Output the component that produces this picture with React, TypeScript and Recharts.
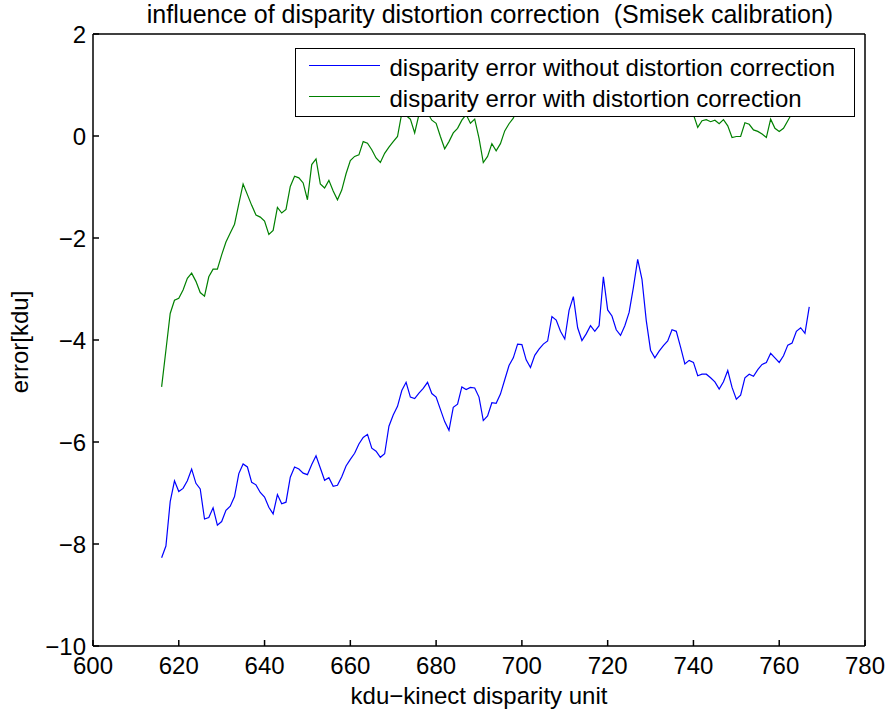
import React from 'react';
import { LineChart, Line, XAxis, YAxis, Legend } from 'recharts';

// disparity (kdu) sample positions
const kdu = [
  616, 617, 618, 619, 620, 621, 622, 623, 624, 625,
  626, 627, 628, 629, 630, 631, 632, 633, 634, 635,
  636, 637, 638, 639, 640, 641, 642, 643, 644, 645,
  646, 647, 648, 649, 650, 651, 652, 653, 654, 655,
  656, 657, 658, 659, 660, 661, 662, 663, 664, 665,
  666, 667, 668, 669, 670, 671, 672, 673, 674, 675,
  676, 677, 678, 679, 680, 681, 682, 683, 684, 685,
  686, 687, 688, 689, 690, 691, 692, 693, 694, 695,
  696, 697, 698, 699, 700, 701, 702, 703, 704, 705,
  706, 707, 708, 709, 710, 711, 712, 713, 714, 715,
  716, 717, 718, 719, 720, 721, 722, 723, 724, 725,
  726, 727, 728, 729, 730, 731, 732, 733, 734, 735,
  736, 737, 738, 739, 740, 741, 742, 743, 744, 745,
  746, 747, 748, 749, 750, 751, 752, 753, 754, 755,
  756, 757, 758, 759, 760, 761, 762, 763, 764, 765,
  766, 767,
];

// error without distortion correction [kdu]
const errWithout = [
  -8.27, -8.04, -7.17, -6.76, -6.97, -6.91, -6.76, -6.53, -6.81, -6.92,
  -7.51, -7.48, -7.29, -7.63, -7.56, -7.34, -7.26, -7.07, -6.62, -6.43,
  -6.49, -6.79, -6.84, -6.99, -7.08, -7.28, -7.41, -7.03, -7.21, -7.18,
  -6.69, -6.49, -6.53, -6.61, -6.64, -6.44, -6.27, -6.51, -6.75, -6.70,
  -6.87, -6.85, -6.68, -6.47, -6.34, -6.22, -6.04, -5.91, -5.85, -6.12,
  -6.18, -6.30, -6.23, -5.69, -5.47, -5.30, -4.99, -4.83, -5.12, -5.15,
  -5.04, -4.95, -4.83, -5.05, -5.12, -5.36, -5.60, -5.77, -5.32, -5.26,
  -4.92, -4.97, -4.93, -4.94, -5.12, -5.58, -5.49, -5.23, -5.24, -5.06,
  -4.78, -4.50, -4.35, -4.08, -4.09, -4.39, -4.54, -4.30, -4.18, -4.08,
  -4.02, -3.54, -3.61, -3.83, -3.98, -3.42, -3.15, -3.76, -4.01, -3.88,
  -3.72, -3.83, -3.72, -2.76, -3.41, -3.53, -3.80, -3.91, -3.72, -3.46,
  -2.97, -2.42, -2.81, -3.62, -4.20, -4.35, -4.22, -4.11, -4.02, -3.80,
  -3.83, -4.14, -4.47, -4.40, -4.44, -4.70, -4.67, -4.67, -4.74, -4.82,
  -4.96, -4.82, -4.60, -4.93, -5.16, -5.08, -4.74, -4.67, -4.71, -4.58,
  -4.48, -4.44, -4.26, -4.35, -4.44, -4.31, -4.10, -4.06, -3.83, -3.76,
  -3.87, -3.35,
];

// error with distortion correction [kdu]
const errWith = [
  -4.92, -4.20, -3.48, -3.22, -3.18, -3.02, -2.79, -2.69, -2.85, -3.07,
  -3.14, -2.76, -2.61, -2.61, -2.33, -2.08, -1.90, -1.73, -1.33, -0.94,
  -1.15, -1.36, -1.55, -1.59, -1.67, -1.93, -1.85, -1.40, -1.51, -1.44,
  -0.99, -0.79, -0.82, -0.92, -1.25, -0.56, -0.45, -0.94, -1.02, -0.87,
  -1.08, -1.25, -1.06, -0.74, -0.48, -0.40, -0.37, -0.11, -0.14, -0.27,
  -0.43, -0.52, -0.34, -0.22, -0.11, -0.01, 0.45, 0.40, 0.33, 0.06,
  0.42, 0.55, 0.45, 0.31, 0.25, -0.01, -0.25, -0.11, 0.06, 0.15,
  0.31, 0.42, 0.25, 0.33, -0.04, -0.52, -0.40, -0.15, -0.29, -0.15,
  0.10, 0.24, 0.35, 0.55, 0.62, 0.58, 0.71, 0.66, 0.74, 0.69,
  0.81, 0.77, 0.85, 0.72, 0.79, 0.88, 0.83, 0.76, 0.91, 0.86,
  0.95, 0.89, 0.82, 0.93, 0.87, 0.78, 0.84, 0.74, 0.80, 0.71,
  0.76, 0.66, 0.72, 0.63, 0.69, 0.58, 0.64, 0.55, 0.61, 0.52,
  0.57, 0.48, 0.53, 0.46, 0.42, 0.17, 0.30, 0.32, 0.28, 0.31,
  0.24, 0.32, 0.20, -0.03, -0.01, -0.01, 0.26, 0.23, 0.12, 0.09,
  0.04, -0.03, 0.33, 0.15, 0.09, 0.15, 0.30, 0.45, 0.52, 0.48,
  0.58, 0.55,
];

const seriesNames = [
  'disparity error without distortion correction',
  'disparity error with distortion correction',
];

const xTicks = [600, 620, 640, 660, 680, 700, 720, 740, 760, 780];
const yTicks = [-10, -8, -6, -4, -2, 0, 2];

const data = kdu.map((k, i) => ({ kdu: k, without: errWithout[i], with: errWith[i] }));

const FONT = '"Liberation Sans", Arial, Helvetica, sans-serif';
const tickStyle = { fontSize: 24, fill: '#000', fontFamily: FONT };
const fmt = (v: number) => (v < 0 ? '\u2212' + Math.abs(v) : String(v));

// legend keeps plotting order, boxed and opaque like MATLAB's
const LegendBox = ({ payload }: any) => {
  const items = [...(payload || [])].sort(
    (a: any, b: any) => seriesNames.indexOf(a.value) - seriesNames.indexOf(b.value),
  );
  return (
    <div
      style={{
        width: 560,
        height: 69,
        boxSizing: 'border-box',
        border: '1.5px solid #000',
        background: '#fff',
        paddingTop: 1,
        fontFamily: FONT,
        fontSize: 24,
        color: '#000',
      }}
    >
      {items.map((p: any) => (
        <div key={p.value} style={{ display: 'flex', alignItems: 'center', height: 31 }}>
          <div style={{ marginLeft: 12.5, width: 71, borderTop: `1.2px solid ${p.color}` }} />
          <div style={{ marginLeft: 10, lineHeight: '31px', position: 'relative', top: 2, whiteSpace: 'nowrap' }}>
            {p.value}
          </div>
        </div>
      ))}
    </div>
  );
};

export default function App() {
  return (
    <div style={{ position: 'absolute', left: 0, top: 0, width: 889, height: 715, background: '#fff' }}>
      <LineChart width={889} height={715} data={data} margin={{ top: 33, right: 23, bottom: 9, left: 13 }}>
        <XAxis
          dataKey="kdu"
          type="number"
          domain={[600, 780]}
          allowDataOverflow
          ticks={xTicks}
          interval={0}
          height={60}
          tickSize={-6}
          tickMargin={17}
          tick={tickStyle}
          stroke="#000"
          strokeWidth={1.5}
        />
        <XAxis
          xAxisId="top"
          orientation="top"
          type="number"
          domain={[600, 780]}
          allowDataOverflow
          ticks={xTicks}
          interval={0}
          height={1}
          tickSize={-6}
          tick={false}
          stroke="#000"
          strokeWidth={1.5}
        />
        <YAxis
          type="number"
          domain={[-10, 2]}
          allowDataOverflow
          ticks={yTicks}
          interval={0}
          width={80}
          tickSize={-6}
          tickMargin={13}
          tick={tickStyle}
          tickFormatter={fmt}
          stroke="#000"
          strokeWidth={1.5}
        />
        <YAxis
          yAxisId="right"
          orientation="right"
          type="number"
          domain={[-10, 2]}
          allowDataOverflow
          ticks={yTicks}
          interval={0}
          width={1}
          tickSize={-6}
          tick={false}
          stroke="#000"
          strokeWidth={1.5}
        />
        <Line
          type="linear"
          dataKey="without"
          name={seriesNames[0]}
          stroke="#0000ff"
          strokeWidth={1.2}
          dot={false}
          isAnimationActive={false}
        />
        <Line
          type="linear"
          dataKey="with"
          name={seriesNames[1]}
          stroke="#008000"
          strokeWidth={1.2}
          dot={false}
          isAnimationActive={false}
        />
        <Legend
          layout="horizontal"
          align="center"
          verticalAlign="middle"
          content={<LegendBox />}
          wrapperStyle={{ left: 295, top: 48, width: 560, height: 69 }}
        />
      </LineChart>
      <div
        style={{
          position: 'absolute', left: 90, top: 0, width: 800, textAlign: 'center',
          fontFamily: FONT, fontSize: 25, lineHeight: '28px', color: '#000', whiteSpace: 'pre',
        }}
      >
        {'influence of disparity distortion correction  (Smisek calibration)'}
      </div>
      <div
        style={{
          position: 'absolute', left: 179, top: 684, width: 600, textAlign: 'center',
          fontFamily: FONT, fontSize: 24, lineHeight: '24px', color: '#000',
        }}
      >
        kdu{'\u2212'}kinect disparity unit
      </div>
      <div
        style={{
          position: 'absolute', left: -80, top: 330, width: 200, height: 24, textAlign: 'center',
          fontFamily: FONT, fontSize: 24, lineHeight: '24px', color: '#000', transform: 'rotate(-90deg)',
        }}
      >
        error[kdu]
      </div>
    </div>
  );
}
